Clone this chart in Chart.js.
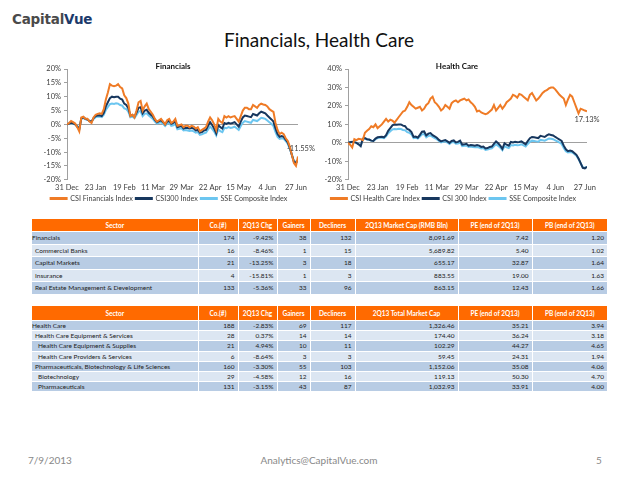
<!DOCTYPE html>
<html>
<head>
<meta charset="utf-8">
<script src="https://cdn.jsdelivr.net/npm/chart.js@4.4.0/dist/chart.umd.min.js"></script>
<style>
  body { margin: 0; width: 638px; height: 479px; background: #fff; position: relative; overflow: hidden; font-family: Lato, sans-serif; }
  .abs { position: absolute; }
  #logo { left: 12px; top: 11px; font-family: "DejaVu Sans", sans-serif; font-weight: bold; font-size: 13.5px; letter-spacing: -0.2px; }
  #logo .c { color: #4a4a4a; }
  #logo .v { color: #1b3a6b; }
  #title { left: 0; width: 638px; top: 28px; text-align: center; font-size: 19px; color: #111; }
  .ctitle { font-size: 8px; font-weight: bold; color: #111; z-index: 2; }
  table { position: absolute; left: 32px; border-collapse: collapse; table-layout: fixed; width: 575px; font-size: 6.5px; color: #222; }
  td, th { border-left: 1px solid #fff; border-bottom: 1px solid #fff; padding: 0 3px 0 0; white-space: nowrap; overflow: hidden; }
  td:first-child, th:first-child { border-left: none; }
  th { background: #ff6a00; color: #fff; font-weight: bold; text-align: center; padding: 0; }
  td { text-align: right; }
  td.s { text-align: left; }
  tr.d td { background: #b8cce4; }
  tr.l td { background: #dce6f2; }
  #t1 th { height: 12px; }
  #t1 td { height: 11.5px; }
  #t2 th { height: 14px; }
  #t2 td { height: 9.2px; }
  .foot { top: 454px; font-size: 10px; color: #888; }
</style>
</head>
<body>
<div id="logo" class="abs"><span class="c">Capital</span><span class="v">Vue</span></div>
<div id="title" class="abs">Financials, Health Care</div>

<div class="abs" style="left:40px;top:52px;width:280px;height:160px;"><canvas id="finChart"></canvas></div>
<div class="abs" style="left:320px;top:52px;width:290px;height:160px;"><canvas id="hcChart"></canvas></div>
<div class="abs ctitle" style="left:140px;top:61px;width:66px;text-align:center;">Financials</div>
<div class="abs ctitle" style="left:417px;top:61px;width:80px;text-align:center;">Health Care</div>

<table id="t1" style="top:219px;"></table>
<table id="t2" style="top:306px;"></table>

<div class="abs foot" style="left:28px;">7/9/2013</div>
<div class="abs foot" style="left:0;width:638px;text-align:center;">Analytics@CapitalVue.com</div>
<div class="abs foot" style="left:596px;">5</div>

<script>
// x tick labels, one every 14 trading days
const tickLabels = ["31 Dec", "23 Jan", "19 Feb", "11 Mar", "29 Mar", "22 Apr", "15 May", "4 Jun", "27 Jun"];

// cumulative change since 31 Dec 2012, %
const csiFinancials = [
  0, 0.5, 1.2, 0.8, 0.3, -1.0, -2.5, 2.5, 2.8, 2.0,
  2.0, 1.0, 0.5, 2.5, 3.5, 3.8, 4.0, 3.8, 5.5, 9.0,
  11.5, 14.5, 14.0, 13.8, 14.0, 14.5, 13.5, 13.0, 10.5, 9.5,
  7.5, 3.0, 3.5, 2.5, 5.0, 8.0, 8.5, 5.0, 6.5, 7.5,
  5.5, 4.5, 3.5, 2.0, 1.0, 1.5, 2.0, 1.0, 0.0, 1.5,
  2.0, 0.5, 1.0, 2.0, -0.5, -0.3, 0.0, -1.0, -0.5, -0.5,
  -1.0, -0.5, -0.8, -1.5, -1.0, -2.5, -2.0, -1.5, -1.0, 1.0,
  2.5, 1.5, 0.0, -2.0, 2.0, 1.0, 0.5, 3.0, 2.5, 3.0,
  2.5, 2.8, 3.0, 2.0, 1.0, 3.0, 5.0, 6.0, 6.0, 5.5,
  5.5, 7.0, 6.5, 6.0, 7.0, 7.5, 7.2, 7.0, 6.5, 5.5,
  5.0, 4.5, 0.5, -2.0, -3.5, -3.0, -3.5, -5.0, -6.0, -8.0,
  -11.0, -14.0, -15.0, -11.55
];

const csiHealthCare = [
  0, -1.0, -2.5, 2.0, 1.5, 2.2, 2.0, 1.5, 5.5, 6.5,
  7.5, 9.0, 8.5, 10.0, 8.0, 9.0, 10.0, 11.5, 13.0, 11.5,
  12.5, 12.0, 11.0, 12.5, 14.0, 15.5, 17.0, 17.5, 19.5, 22.0,
  20.5, 19.5, 18.5, 19.0, 19.5, 17.5, 18.5, 20.5, 21.5, 24.0,
  25.0, 22.0, 21.0, 19.5, 17.5, 18.5, 20.5, 19.5, 18.5, 21.5,
  22.5, 23.0, 22.0, 23.0, 23.5, 24.0, 23.0, 23.5, 22.0, 21.0,
  19.5, 17.0, 17.5, 16.5, 16.0, 15.5, 16.0, 17.0, 18.0, 20.5,
  17.5, 19.0, 20.5, 18.5, 20.0, 22.0, 23.0, 24.0, 26.0, 25.5,
  24.5, 26.5, 26.0, 25.0, 24.0, 23.0, 26.0, 27.0, 25.0, 23.0,
  24.0, 25.5, 27.0, 28.0, 28.5, 29.5, 30.0, 30.0, 29.0, 27.5,
  26.0, 25.0, 24.0, 20.5, 23.5, 26.0, 25.0, 22.0, 19.0, 16.0,
  18.5, 18.0, 17.5, 17.13
];

const csi300 = [
  0, 0.3, 0.6, 0.4, 0.0, -0.8, -1.8, 2.2, 2.6, 2.0,
  1.8, 1.2, 1.0, 2.3, 3.0, 3.2, 3.3, 3.0, 4.2, 6.5,
  8.0, 9.5, 10.0, 9.8, 10.0, 10.0, 9.3, 9.0, 7.5, 7.0,
  5.8, 3.2, 3.4, 2.8, 4.3, 6.0, 6.2, 4.0, 5.0, 5.3,
  4.2, 3.5, 2.8, 1.6, 0.8, 1.2, 1.5, 0.8, 0.0, 1.0,
  1.3, 0.2, 0.5, 1.2, -1.0, -0.8, -0.5, -1.5, -1.2, -1.3,
  -1.5, -1.2, -1.5, -2.2, -2.0, -3.0, -2.8, -2.2, -2.0, -0.5,
  0.8, -0.2, -1.5, -3.2, -0.2, -1.0, -1.5, 0.5, 0.2, 0.6,
  0.3, 0.5, 0.8, 0.0, -0.8, 1.0, 2.5, 3.2, 3.0, 2.8,
  2.6, 3.8, 3.5, 3.2, 4.0, 4.6, 4.3, 4.0, 3.2, 2.5,
  1.8, 1.0, -1.5, -3.5, -4.5, -4.2, -4.5, -5.5, -6.5, -8.5,
  -11.0, -13.5, -13.8, -13.0
];

const sseComposite = [
  0, 0.3, 0.5, 0.3, 0.0, -0.6, -1.5, 2.0, 2.3, 1.8,
  1.7, 1.2, 1.0, 2.0, 2.6, 2.8, 2.8, 2.6, 3.5, 5.2,
  6.3, 7.3, 7.5, 7.4, 7.6, 7.5, 7.0, 6.8, 5.8, 5.5,
  4.6, 2.6, 2.8, 2.3, 3.4, 4.6, 4.8, 3.0, 3.8, 4.0,
  3.2, 2.6, 2.0, 1.0, 0.3, 0.6, 0.8, 0.2, -0.6, 0.3,
  0.5, -0.5, -0.3, 0.2, -1.8, -1.6, -1.4, -2.2, -2.0, -2.2,
  -2.4, -2.2, -2.5, -3.0, -2.8, -3.8, -3.6, -3.2, -3.0, -1.8,
  -0.8, -1.6, -2.6, -4.0, -1.8, -2.4, -2.8, -1.2, -1.4, -1.0,
  -1.3, -1.1, -0.8, -1.4, -2.0, -0.6, 0.6, 1.2, 1.0, 0.8,
  0.6, 1.6, 1.4, 1.2, 1.8, 2.4, 2.2, 2.0, 1.4, 0.8,
  0.2, -0.6, -2.8, -4.5, -5.2, -5.0, -5.2, -6.0, -7.0, -8.8,
  -11.0, -13.2, -13.5, -13.0
];

// table data
const headers1 = ["Sector", "Co.(#)", "2Q13 Chg", "Gainers", "Decliners", "2Q13 Market Cap (RMB Bln)", "PE (end of 2Q13)", "PB (end of 2Q13)"];
const finSectors = ["Financials", "Commercial Banks", "Capital Markets", "Insurance", "Real Estate Management & Development"];
const finIndent = [0, 1, 1, 1, 1];
const finCo = [174, 16, 21, 4, 133];
const finChg = [-9.42, -8.46, -13.25, -15.81, -5.36];
const finGainers = [38, 1, 3, 1, 33];
const finDecliners = [132, 15, 18, 3, 96];
const finCap = [8091.69, 5689.82, 655.17, 883.55, 863.15];
const finPE = [7.42, 5.40, 32.87, 19.00, 12.43];
const finPB = [1.20, 1.02, 1.64, 1.63, 1.66];

const headers2 = ["Sector", "Co.(#)", "2Q13 Chg", "Gainers", "Decliners", "2Q13 Total Market Cap", "PE (end of 2Q13)", "PB (end of 2Q13)"];
const hcSectors = ["Health Care", "Health Care Equipment & Services", "Health Care Equipment & Supplies", "Health Care Providers & Services", "Pharmaceuticals, Biotechnology & Life Sciences", "Biotechnology", "Pharmaceuticals"];
const hcIndent = [0, 1, 2, 2, 1, 2, 2];
const hcCo = [188, 28, 21, 6, 160, 29, 131];
const hcChg = [-2.83, 0.37, 4.94, -8.64, -3.30, -4.58, -3.15];
const hcGainers = [69, 14, 10, 3, 55, 12, 43];
const hcDecliners = [117, 14, 11, 3, 103, 16, 87];
const hcCap = [1326.46, 174.40, 102.29, 59.45, 1152.06, 119.13, 1032.93];
const hcPE = [35.21, 36.24, 44.27, 24.31, 35.08, 50.30, 33.91];
const hcPB = [3.94, 3.18, 4.65, 1.94, 4.06, 4.70, 4.00];

const colWidths = [166, 40, 39, 33, 45, 103, 74, 75];

function buildTable(id, headers, sectors, indent, co, chg, gainers, decliners, cap, pe, pb) {
  const t = document.getElementById(id);
  let html = "<colgroup>" + colWidths.map(w => `<col style="width:${w}px">`).join("") + "</colgroup>";
  html += "<tr>" + headers.map(h => `<th>${h}</th>`).join("") + "</tr>";
  sectors.forEach((s, i) => {
    const capText = cap[i].toLocaleString("en-US", { minimumFractionDigits: 2, maximumFractionDigits: 2 });
    html += `<tr class="${i % 2 === 0 ? "d" : "l"}">` +
      `<td class="s" style="padding-left:${indent[i] * 3}px">${s.replace(/&/g, "&amp;")}</td>` +
      `<td>${co[i]}</td><td>${chg[i].toFixed(2)}%</td><td>${gainers[i]}</td><td>${decliners[i]}</td>` +
      `<td>${capText}</td><td>${pe[i].toFixed(2)}</td><td>${pb[i].toFixed(2)}</td></tr>`;
  });
  t.innerHTML = html;
}

buildTable("t1", headers1, finSectors, finIndent, finCo, finChg, finGainers, finDecliners, finCap, finPE, finPB);
buildTable("t2", headers2, hcSectors, hcIndent, hcCo, hcChg, hcGainers, hcDecliners, hcCap, hcPE, hcPB);

// charts
const ORANGE = "#ef7b26";
const NAVY = "#17375e";
const SKY = "#6cc6f0";
const TXT = "#404040";

const endLabel = {
  id: "endLabel",
  afterDatasetsDraw(chart, args, opts) {
    const meta = chart.getDatasetMeta(0);
    const pt = meta.data[meta.data.length - 1];
    const ctx = chart.ctx;
    ctx.save();
    ctx.font = "7.5px Lato";
    ctx.fillStyle = TXT;
    ctx.textAlign = "center";
    ctx.textBaseline = "middle";
    ctx.fillText(opts.text, pt.x + opts.dx, pt.y + opts.dy);
    ctx.restore();
  }
};

function toPoints(values) {
  return values.map((y, i) => ({ x: i, y: y }));
}

function makeChart(id, mainLabel, mainValues, label300, yMin, yMax, yStep, yWidth, padRight, endOpts) {
  const ctx = document.getElementById(id).getContext("2d");
  return new Chart(ctx, {
    type: "line",
    data: {
      datasets: [
        { label: mainLabel, data: toPoints(mainValues), borderColor: ORANGE, backgroundColor: ORANGE },
        { label: label300, data: toPoints(csi300), borderColor: NAVY, backgroundColor: NAVY },
        { label: "SSE Composite Index", data: toPoints(sseComposite), borderColor: SKY, backgroundColor: SKY }
      ]
    },
    options: {
      responsive: true,
      maintainAspectRatio: false,
      animation: false,
      layout: { padding: { top: 17, right: padRight, left: 0, bottom: 0 } },
      elements: { point: { radius: 0 }, line: { borderWidth: 2, tension: 0 } },
      scales: {
        x: {
          type: "linear",
          min: 0,
          max: mainValues.length - 1,
          grid: { display: false, drawTicks: false },
          border: { display: false },
          ticks: {
            stepSize: 14,
            includeBounds: false,
            autoSkip: false,
            maxRotation: 0,
            padding: 3,
            color: TXT,
            font: { family: "Lato", size: 7.5 },
            callback: v => tickLabels[v / 14] || ""
          },
          afterFit: s => { s.height = 12; }
        },
        y: {
          min: yMin,
          max: yMax,
          grid: {
            color: c => (c.tick && c.tick.value === 0 ? "#a0a0a0" : "rgba(0,0,0,0)"),
            tickColor: "#a0a0a0",
            tickLength: 3
          },
          border: { display: true, color: "#a0a0a0" },
          ticks: {
            stepSize: yStep,
            padding: 3,
            color: TXT,
            font: { family: "Lato", size: 7.5 },
            callback: v => v + "%"
          },
          afterFit: s => { s.width = yWidth; }
        }
      },
      plugins: {
        legend: {
          position: "bottom",
          labels: {
            boxWidth: 16,
            boxHeight: 1,
            padding: 3,
            color: TXT,
            font: { family: "Lato", size: 7.2 }
          }
        },
        tooltip: { enabled: false },
        endLabel: endOpts
      }
    },
    plugins: [endLabel]
  });
}

makeChart("finChart", "CSI Financials Index", csiFinancials, "CSI300 Index", -20, 20, 5, 27, 22, { text: "-11.55%", dx: 3, dy: -8 });
makeChart("hcChart", "CSI Health Care Index", csiHealthCare, "CSI 300 Index", -20, 40, 10, 28, 23, { text: "17.13%", dx: 0, dy: 8 });
</script>
</body>
</html>
